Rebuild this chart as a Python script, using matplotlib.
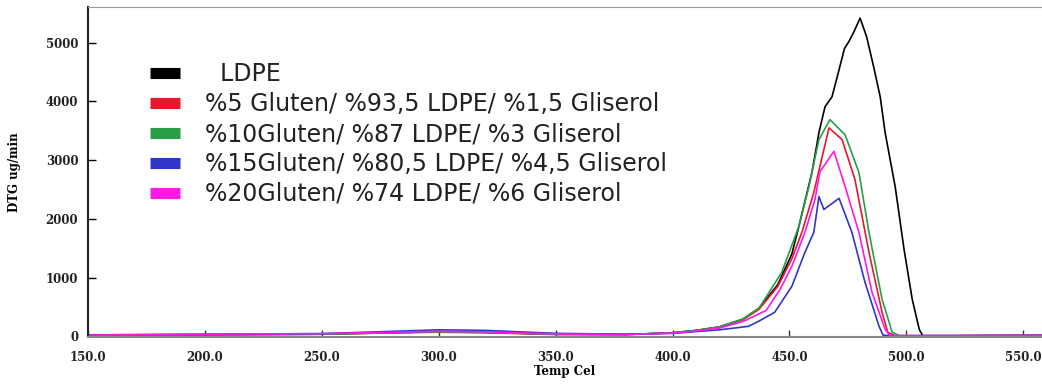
import matplotlib.pyplot as plt

# DTG curves (ug/min) against temperature (Cel)
temp_ldpe = [150, 200, 250, 300, 320, 350, 380, 400, 410, 420, 430, 437, 445, 451, 454, 459.6,
             462.6, 465.2, 468.2, 471.2, 473.5, 475.4, 477.6, 480.2, 483, 486, 488.8, 490.9,
             495.2, 499, 502.5, 505.5, 507, 520, 558]
dtg_ldpe = [15, 25, 35, 80, 70, 35, 30, 60, 100, 160, 290, 480, 880, 1400, 1870, 2790,
            3470, 3910, 4080, 4540, 4900, 5020, 5190, 5420, 5100, 4590, 4080, 3470,
            2550, 1480, 630, 120, 10, 10, 15]

temp_g5 = [150, 200, 250, 300, 320, 350, 380, 400, 410, 420, 430, 437, 445, 451, 455.3,
           460.4, 463, 466.9, 472.5, 478, 484, 489.6, 492, 495, 520, 558]
dtg_g5 = [20, 30, 40, 70, 60, 30, 30, 55, 95, 150, 280, 460, 850, 1320, 1770,
          2450, 2890, 3550, 3350, 2670, 1430, 410, 70, 10, 10, 15]

temp_g10 = [150, 200, 250, 300, 320, 350, 380, 400, 410, 420, 430, 437, 446.7, 454, 458.3,
            462.6, 467.3, 473.8, 479.7, 484, 489.6, 493.9, 497, 520, 558]
dtg_g10 = [15, 25, 35, 75, 65, 35, 30, 60, 100, 160, 290, 480, 1090, 1870, 2550,
           3350, 3690, 3430, 2790, 1770, 630, 70, 10, 10, 15]

temp_g15 = [150, 200, 250, 300, 320, 350, 380, 400, 420, 432.5, 437, 443.7, 451, 456.6,
            460.4, 462.6, 464.7, 471.2, 476.7, 482.3, 488.3, 490, 493, 520, 558]
dtg_g15 = [25, 35, 45, 110, 100, 50, 35, 50, 110, 170, 260, 410, 850, 1430,
           1770, 2380, 2160, 2350, 1770, 920, 170, 20, 10, 10, 15]

temp_g20 = [150, 200, 250, 300, 320, 350, 380, 400, 410, 420, 430, 440, 446, 451, 456.6,
            460.9, 463, 469, 473.8, 479.7, 485.3, 490.9, 493, 520, 558]
dtg_g20 = [20, 35, 45, 85, 75, 40, 30, 55, 90, 140, 250, 440, 800, 1190, 1770,
           2330, 2800, 3150, 2550, 1770, 750, 120, 10, 10, 15]

labels = ['  LDPE',
          '%5 Gluten/ %93,5 LDPE/ %1,5 Gliserol',
          '%10Gluten/ %87 LDPE/ %3 Gliserol',
          '%15Gluten/ %80,5 LDPE/ %4,5 Gliserol',
          '%20Gluten/ %74 LDPE/ %6 Gliserol']
colors = ['black', '#e8182c', '#2a9e46', '#3236c8', '#ff18e8']

series = [(temp_ldpe, dtg_ldpe), (temp_g5, dtg_g5), (temp_g10, dtg_g10),
          (temp_g15, dtg_g15), (temp_g20, dtg_g20)]

fig = plt.figure(figsize=(10.42, 3.85), dpi=100)
ax = fig.add_axes([0.0845, 0.125, 0.9155, 0.857])

for (t, d), lab, c in zip(series, labels, colors):
    ax.plot(t, d, color=c, lw=1.2, label=lab)

ax.set_xlim(150, 558)
ax.set_ylim(-10, 5610)
ax.set_xticks([150, 200, 250, 300, 350, 400, 450, 500, 550])
ax.set_xticklabels(['150.0', '200.0', '250.0', '300.0', '350.0', '400.0',
                    '450.0', '500.0', '550.0'])
ax.set_yticks([0, 1000, 2000, 3000, 4000, 5000])

tick_font = {'family': 'DejaVu Serif', 'weight': 'bold', 'size': 8.5}
for lbl in ax.get_xticklabels() + ax.get_yticklabels():
    lbl.set_fontfamily('DejaVu Serif')
    lbl.set_fontweight('bold')
    lbl.set_fontsize(8.5)
    lbl.set_color('#222222')

ax.tick_params(axis='y', direction='in', length=6, width=1, pad=7)
ax.tick_params(axis='x', direction='in', length=5, width=1, pad=10, color='#333333')

ax.set_xlabel('Temp Cel', fontdict=tick_font, labelpad=1)
ax.set_ylabel('DTG ug/min', fontdict=tick_font, labelpad=18)

ax.spines['right'].set_visible(False)
ax.spines['top'].set_color('#999999')
ax.spines['bottom'].set_color('#888888')
ax.spines['bottom'].set_linewidth(1.5)
ax.spines['left'].set_color('#222222')
ax.spines['left'].set_linewidth(1.5)

leg = ax.legend(loc='upper left', bbox_to_anchor=(0.065, 0.832), frameon=False,
                prop={'family': 'DejaVu Sans', 'size': 17}, handlelength=1.27,
                handletextpad=1.06, labelspacing=0.25, borderpad=0, borderaxespad=0)
for line in leg.get_lines():
    line.set_linewidth(8)
    line.set_solid_capstyle('butt')
for txt in leg.get_texts():
    txt.set_color('#222222')

fig.savefig('out.png', dpi=100)
